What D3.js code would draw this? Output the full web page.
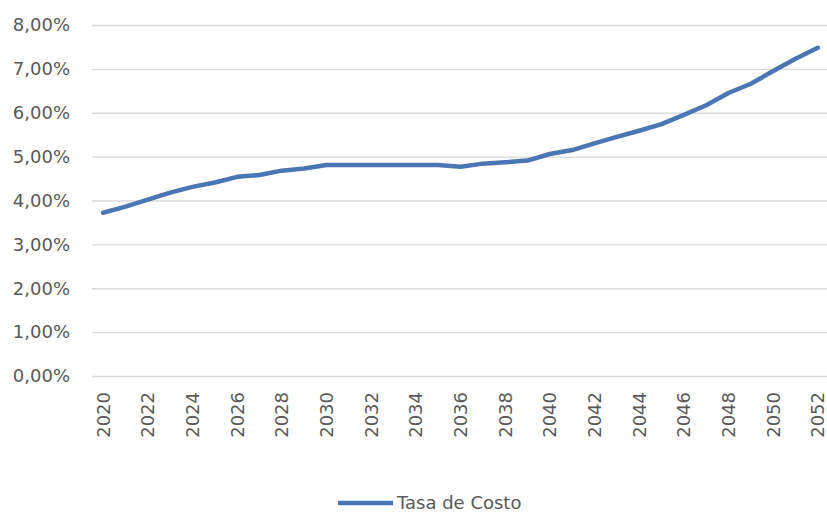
<!DOCTYPE html>
<html>
<head>
<meta charset="utf-8">
<script src="https://cdn.jsdelivr.net/npm/d3@7"></script>
<style>
  html, body { margin: 0; padding: 0; background: #fff; }
  svg { display: block; }
  text { font-family: "DejaVu Sans", sans-serif; fill: #595959; }
</style>
</head>
<body>
<svg id="chart" width="827" height="514"></svg>
<script>
const years = d3.range(2020, 2053);
const tasaDeCosto = [
  3.72, 3.86, 4.02, 4.18, 4.31, 4.41, 4.54, 4.58, 4.68, 4.73,
  4.81, 4.81, 4.81, 4.81, 4.81, 4.81, 4.77, 4.84, 4.87, 4.91,
  5.06, 5.15, 5.30, 5.45, 5.59, 5.74, 5.95, 6.17, 6.45, 6.66,
  6.95, 7.23, 7.48
];
const yTicks = [0, 1, 2, 3, 4, 5, 6, 7, 8];
const xTickYears = years.filter(y => y % 2 === 0);
const seriesName = "Tasa de Costo";

const svg = d3.select("#chart");
const mLeft = 92, mRight = 829, mTop = 25, mBottom = 376;
const FONT = "'DejaVu Sans', sans-serif";

const x = d3.scaleBand().domain(years).range([mLeft, mRight]).padding(0);
const y = d3.scaleLinear().domain([0, 8]).range([mBottom, mTop]);
const fmt = v => v.toFixed(2).replace(".", ",") + "%";

// gridlines
const yAxis = d3.axisLeft(y).tickValues(yTicks).tickSize(-(827 - mLeft)).tickFormat(fmt).tickPadding(22);
const gy = svg.append("g").attr("transform", `translate(${mLeft},0)`).call(yAxis);
gy.select(".domain").remove();
gy.selectAll(".tick line").attr("stroke", "#d9d9d9").attr("stroke-width", 1.3);
gy.selectAll(".tick text").attr("font-size", 18).style("fill", "#595959")
  .attr("font-family", FONT);

// x labels
const xAxis = d3.axisBottom(x).tickValues(xTickYears).tickSize(0).tickPadding(0);
const gx = svg.append("g").attr("transform", `translate(0,${mBottom})`).call(xAxis);
gx.select(".domain").remove();
gx.selectAll(".tick text")
  .attr("font-size", 18)
  .attr("font-family", FONT)
  .style("fill", "#595959")
  .attr("text-anchor", "end")
  .attr("transform", "translate(0,16) rotate(-90)")
  .attr("x", 0).attr("y", 0).attr("dy", "0.36em");

// line
const line = d3.line()
  .x((d, i) => x(years[i]) + x.bandwidth() / 2)
  .y(d => y(d));
svg.append("path")
  .datum(tasaDeCosto)
  .attr("fill", "none")
  .attr("stroke", "#4a76b4")
  .attr("stroke-width", 4.5)
  .attr("stroke-linejoin", "round")
  .attr("stroke-linecap", "round")
  .attr("d", line);

// legend
const lg = svg.append("g");
lg.append("line").attr("x1", 338).attr("x2", 393).attr("y1", 503).attr("y2", 503)
  .attr("stroke", "#4a76b4").attr("stroke-width", 4.5);
lg.append("text").attr("x", 397).attr("y", 503).attr("dy", "0.36em")
  .attr("font-size", 18).attr("font-family", FONT).text(seriesName);
</script>
</body>
</html>
